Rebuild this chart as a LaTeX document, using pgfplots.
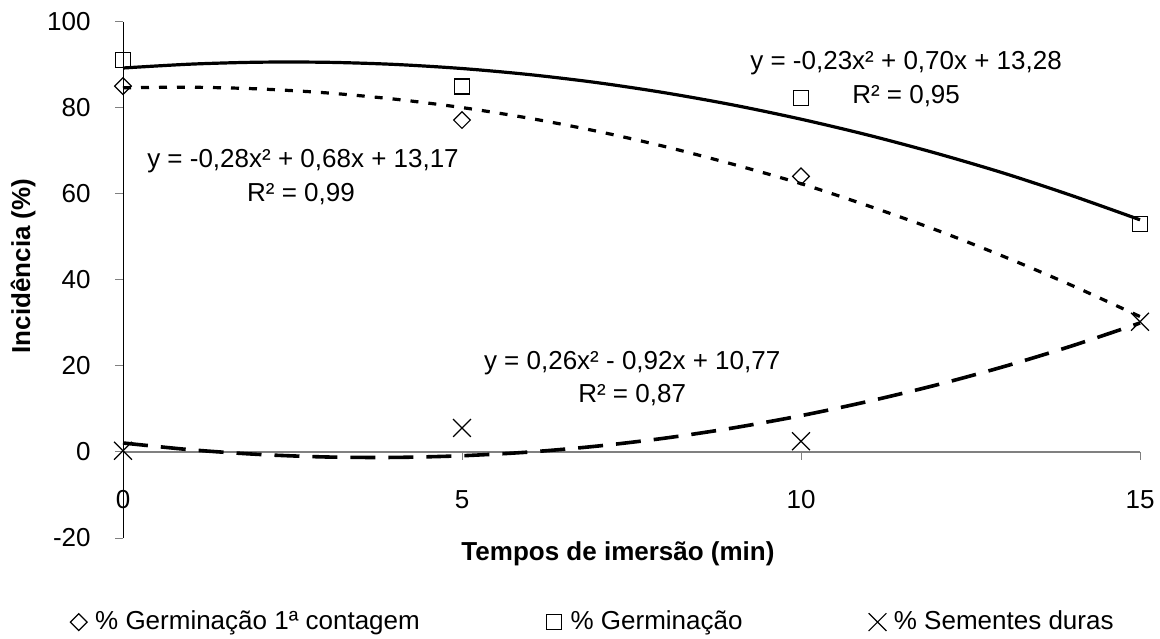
\documentclass[border=0pt]{standalone}
\usepackage{fontspec}
\setmainfont{Liberation Sans}
\usepackage{pgfplots}
\pgfplotsset{compat=1.18}
\pgfplotstableread{
x y
0 89.3
1 90.2
2 90.65
3 90.63
4 90.14
5 89.18
6 87.76
7 85.88
8 83.52
9 80.7
10 77.4
11 73.66
12 69.45
13 64.8
14 59.6
15 54.0
}\germcurve
\pgfplotstableread{
x y
0 84.7
1 84.83
2 84.44
3 83.52
4 82.07
5 80.1
6 77.6
7 74.57
8 71.0
9 66.9
10 62.4
11 57.2
12 51.6
13 45.4
14 38.7
15 31.5
}\primcurve
\pgfplotstableread{
x y
0 2.1
1 0.52
2 -0.56
3 -1.16
4 -1.26
5 -0.87
6 0.0
7 1.38
8 3.24
9 5.60
10 8.45
11 11.8
12 15.6
13 19.9
14 24.7
15 30.0
}\durcurve
\begin{document}
\fontsize{13bp}{15bp}\selectfont
\begin{tikzpicture}
\path[use as bounding box] (0,0) rectangle (580bp,319.5bp);
\begin{axis}[
  at={(61.5bp,50.5bp)}, anchor=south west,
  scale only axis, width=508.5bp, height=258bp,
  xmin=0, xmax=15, ymin=-20, ymax=100,
  axis x line=middle, axis y line=left,
  hide obscured x ticks=false, hide obscured y ticks=false,
  x axis line style={draw=gray, line width=0.8bp, -},
  y axis line style={draw=black, line width=0.5bp, -},
  xtick={0,5,10,15}, ytick={-20,0,20,40,60,80,100},
  tick align=outside, major tick length=4bp,
  tick style={draw=gray, line width=0.5bp},
  /pgf/number format/assume math mode=true,
  xticklabel style={anchor=north, inner sep=0pt, yshift=-15bp},
  yticklabel style={anchor=east, inner sep=0pt, xshift=-12bp},
  clip=false,
  legend columns=3,
  legend cell align=left,
  legend style={draw=none, fill=none, at={(-0.058,-0.163)}, anchor=west,
    nodes={inner sep=0pt},
    /tikz/every even column/.append style={column sep=63bp}},
]
\addplot[black, line width=1.6bp, smooth, forget plot] table[x=x,y=y] {\germcurve};
\addplot[black, line width=1.6bp, smooth, dash pattern=on 4bp off 5bp, forget plot] table[x=x,y=y] {\primcurve};
\addplot[black, line width=1.8bp, smooth, dash pattern=on 12.5bp off 6.5bp, forget plot] table[x=x,y=y] {\durcurve};

\addplot[only marks, mark=square, mark size=2.95bp, mark options={rotate=45, solid, line width=0.6bp, fill=white, draw=black},
  legend image code/.code={\path (-4bp,0bp) (8bp,0bp); \draw plot coordinates {(0bp,0bp)};}]
  coordinates {(0,85.1) (5,77.2) (10,64.1)};
\addlegendentry{\% Germinação 1ª contagem}
\addplot[only marks, mark=square, mark size=3.75bp, mark options={solid, line width=0.6bp, fill=white, draw=black},
  legend image code/.code={\path (-4bp,0bp) (8bp,0bp); \draw plot coordinates {(0bp,0bp)};}]
  coordinates {(0,91.2) (5,85) (10,82.3) (15,53)};
\addlegendentry{\% Germinação}
\addplot[only marks, mark=x, mark size=6.3bp, mark options={solid, line width=0.6bp, draw=black},
  legend image code/.code={\path (-4bp,0bp) (8bp,0bp); \draw plot coordinates {(0bp,0bp)};}]
  coordinates {(0,0.3) (5,5.6) (10,2.5) (15,30.3)};
\addlegendentry{\% Sementes duras}

\node[anchor=base, inner sep=0pt] at (axis cs:2.655,66.05) {y = -0,28x² + 0,68x + 13,17};
\node[anchor=base, inner sep=0pt] at (axis cs:2.625,58.14) {R² = 0,99};
\node[anchor=base, inner sep=0pt] at (axis cs:11.55,88.84) {y = -0,23x² + 0,70x + 13,28};
\node[anchor=base, inner sep=0pt] at (axis cs:11.55,81.16) {R² = 0,95};
\node[anchor=base, inner sep=0pt] at (axis cs:7.51,19.07) {y = 0,26x² - 0,92x + 10,77};
\node[anchor=base, inner sep=0pt] at (axis cs:7.51,11.4) {R² = 0,87};
\end{axis}
\node[anchor=base, inner sep=0pt, font=\bfseries] at (309bp,39.5bp) {Tempos de imersão (min)};
\node[anchor=base, inner sep=0pt, font=\bfseries, rotate=90] at (15bp,186.5bp) {Incidência (\%)};
\end{tikzpicture}
\end{document}
